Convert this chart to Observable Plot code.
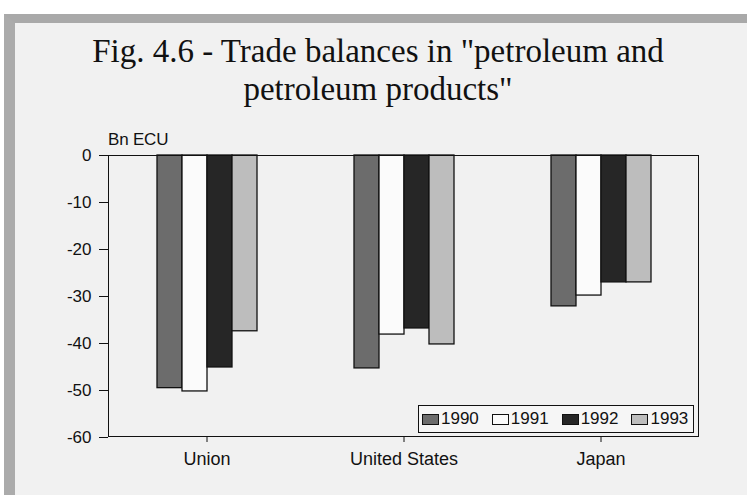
<!DOCTYPE html>
<html>
<head>
<meta charset="utf-8">
<script src="https://cdn.jsdelivr.net/npm/d3@7"></script>
<script src="https://cdn.jsdelivr.net/npm/@observablehq/plot@0.6"></script>
<style>
  html, body { margin: 0; padding: 0; }
  body { width: 747px; height: 495px; position: relative; overflow: hidden; background: #ffffff; font-family: "Liberation Sans", Arial, sans-serif; }
  #panel { position: absolute; left: 4px; top: 14px; width: 743px; height: 481px; background: #f1f1f1; border-left: 11px solid #ababab; border-top: 9px solid #a9a9a9; box-sizing: border-box; }
  #title { position: absolute; left: 0; width: 756px; top: 32px; text-align: center; font-family: "Liberation Serif", "Times New Roman", serif; font-size: 33px; line-height: 38px; color: #111; }
  #unit { position: absolute; left: 108px; top: 130px; font-size: 17px; line-height: 20px; color: #111; letter-spacing: -0.2px; }
  #chart { position: absolute; left: 0; top: 130px; }
  #frame { position: absolute; left: 108px; top: 155px; width: 591px; height: 282px; border: 1.5px solid #111; box-sizing: border-box; pointer-events: none; }
  #legend { position: absolute; left: 418px; top: 405px; width: 276px; height: 28px; border: 1.5px solid #111; box-sizing: border-box; background: #f6f6f6; display: flex; align-items: center; padding-left: 3px; font-size: 17px; color: #111; }
  .item { display: flex; align-items: center; margin-right: 13px; }
  .sw { width: 17px; height: 11px; border: 1.3px solid #111; box-sizing: border-box; margin-right: 2px; }
</style>
</head>
<body>
<div id="panel"></div>
<div id="title">Fig. 4.6 - Trade balances in "petroleum and<br>petroleum products"</div>
<div id="unit">Bn ECU</div>
<div id="chart"></div>
<div id="frame"></div>
<div id="legend"></div>
<script>
const countries = ["Union", "United States", "Japan"];
const years = ["1990", "1991", "1992", "1993"];
const v1990 = [-49.5, -45.3, -32.1];
const v1991 = [-50.2, -38.1, -29.8];
const v1992 = [-45.1, -36.8, -27.0];
const v1993 = [-37.4, -40.2, -27.0];
const yTicks = [0, -10, -20, -30, -40, -50, -60];
const colors = ["#6c6c6c", "#fbfbfb", "#262626", "#bdbdbd"];

const series = [v1990, v1991, v1992, v1993];
const data = countries.flatMap((c, i) => years.map((y, j) => ({country: c, year: y, value: series[j][i]})));

const chart = Plot.plot({
  width: 747,
  height: 360,
  marginLeft: 108,
  marginRight: 48,
  marginTop: 25,
  marginBottom: 53,
  style: {background: "transparent", fontFamily: "Liberation Sans, Arial, sans-serif", color: "#111"},
  fx: {domain: countries, padding: 0, label: null},
  x: {domain: years, paddingInner: 0, paddingOuter: 1.94, axis: null},
  y: {domain: [-60, 0], label: null},
  color: {domain: years, range: colors},
  marks: [
    Plot.barY(data, {fx: "country", x: "year", y: "value", fill: "year", stroke: "#111", strokeWidth: 1.3}),
    Plot.axisY({ticks: yTicks, tickFormat: d => d.toString(), tickSize: 9, tickPadding: 8, fontSize: 17, label: null, stroke: "#111"}),
    Plot.axisFx({anchor: "bottom", tickSize: 5, tickPadding: 10, fontSize: 18, label: null})
  ]
});
document.getElementById("chart").appendChild(chart);

const legend = document.getElementById("legend");
years.forEach((y, j) => {
  const item = document.createElement("div");
  item.className = "item";
  const sw = document.createElement("div");
  sw.className = "sw";
  sw.style.background = colors[j];
  item.appendChild(sw);
  item.appendChild(document.createTextNode(y));
  legend.appendChild(item);
});
</script>
</body>
</html>
